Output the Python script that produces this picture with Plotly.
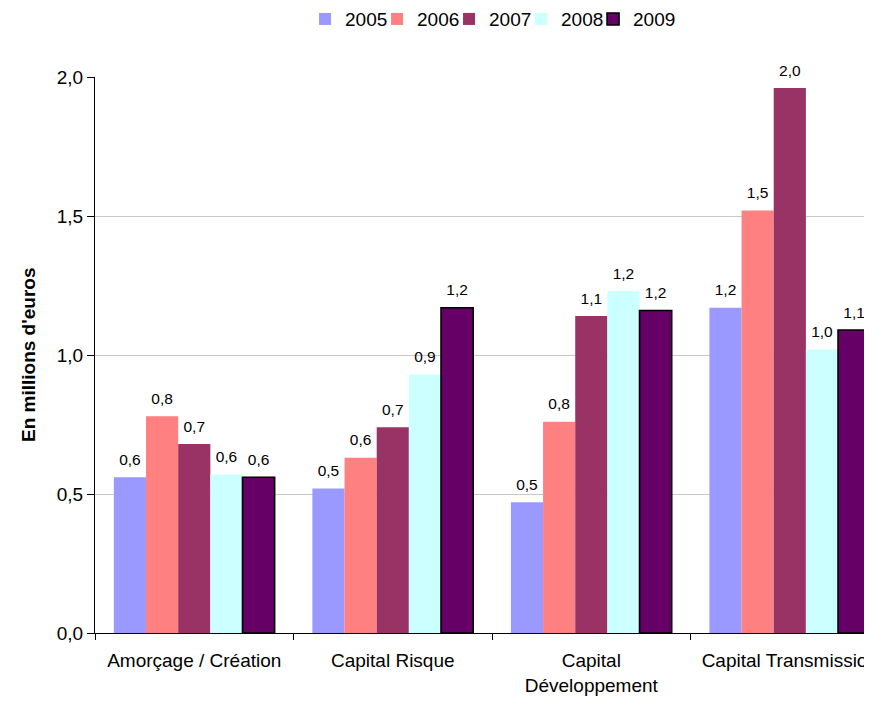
import plotly.graph_objects as go

categories = ["Amorçage / Création", "Capital Risque", "Capital<br>Développement", "Capital Transmission"]
years = ["2005", "2006", "2007", "2008", "2009"]
v2005 = [0.56, 0.52, 0.47, 1.17]
v2006 = [0.78, 0.63, 0.76, 1.52]
v2007 = [0.68, 0.74, 1.14, 1.96]
v2008 = [0.57, 0.93, 1.23, 1.02]
v2009 = [0.56, 1.17, 1.16, 1.09]
series = [v2005, v2006, v2007, v2008, v2009]
colors = ["#9999FF", "#FF8080", "#993366", "#CCFFFF", "#660066"]
outline = [0, 0, 0, 0, 1.6]

FONT = "Arial, Liberation Sans, sans-serif"

fig = go.Figure()
for i, (yr, vals) in enumerate(zip(years, series)):
    fig.add_trace(go.Bar(
        x=categories, y=vals, name=yr, offsetgroup=yr,
        marker=dict(color=colors[i], line=dict(color="black", width=outline[i])),
        hoverinfo="skip",
    ))
for i, (yr, vals) in enumerate(zip(years, series)):
    fig.add_trace(go.Scatter(
        x=categories, y=vals, offsetgroup=yr, showlegend=False,
        mode="markers+text",
        marker=dict(size=12, opacity=0),
        text=[f"{v:.1f}".replace(".", ",") for v in vals],
        textposition="top center",
        textfont=dict(family=FONT, size=15.5, color="black"),
        cliponaxis=False, hoverinfo="skip",
    ))
# empty legend slot so the last legend label is not clipped by the legend box
fig.add_trace(go.Scatter(
    x=[categories[0]], y=[None], name="", offsetgroup="2009",
    mode="lines", line=dict(width=0, color="rgba(0,0,0,0)"),
    showlegend=True, hoverinfo="skip",
))

# the page body has an 8px margin: the figure is sized to end at the window edge
fig.update_layout(
    width=864, height=693,
    margin=dict(l=87, r=0, t=69, b=68),
    paper_bgcolor="white", plot_bgcolor="white",
    font=dict(family=FONT, size=19, color="black"),
    separators=",.",
    barmode="group", bargap=0.19, bargroupgap=0,
    scattermode="group", scattergap=0.19,
    showlegend=True,
    legend=dict(
        orientation="h", xref="container", yref="container",
        x=0.3438, xanchor="left", y=0.984, yanchor="middle",
        font=dict(size=19), bgcolor="rgba(0,0,0,0)", traceorder="normal",
        entrywidth=27, entrywidthmode="pixels",
    ),
    xaxis=dict(
        type="category", range=[-0.5, 3.414], autorange=False,
        showline=True, linecolor="black", linewidth=1,
        ticks="outside", tickson="boundaries", ticklen=6, tickcolor="black",
        showgrid=False, automargin=False, ticklabelstandoff=10,
        tickfont=dict(size=19),
    ),
    yaxis=dict(
        range=[0, 2], autorange=False, dtick=0.5, tickformat=".1f",
        showline=True, linecolor="black", linewidth=1,
        ticks="outside", ticklen=7, tickcolor="black",
        showgrid=True, gridcolor="#C8C8C8", gridwidth=1, zeroline=False,
        automargin=False, tickfont=dict(size=19),
    ),
    annotations=[dict(
        text="<b>En millions d'euros</b>", textangle=-90,
        xref="paper", yref="paper", x=0, y=0.5, xshift=-67,
        xanchor="center", yanchor="middle", showarrow=False,
        font=dict(size=19, family=FONT),
    )],
)

fig.write_html("out.html")
